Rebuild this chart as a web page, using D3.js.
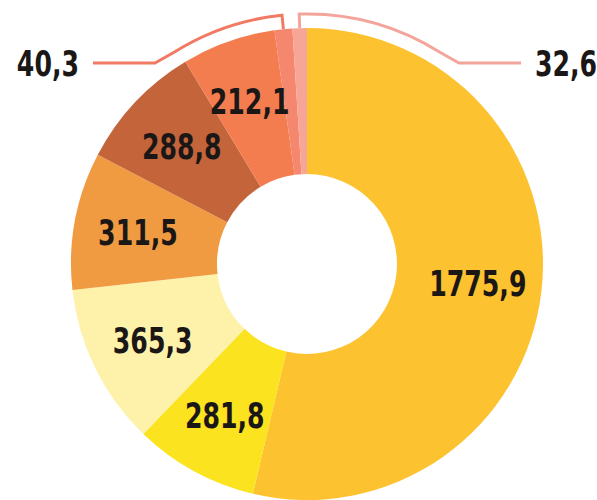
<!DOCTYPE html>
<html>
<head>
<meta charset="utf-8">
<script src="https://cdn.jsdelivr.net/npm/d3@7"></script>
<style>
html,body{margin:0;padding:0;background:#fff;}
svg{display:block;}
text{font-family:"DejaVu Sans Condensed","DejaVu Sans",sans-serif;font-weight:bold;fill:#1b1716;}
</style>
</head>
<body>
<svg id="chart" width="597" height="500"></svg>
<script>
// Data (clockwise from 12 o'clock)
const values = [1775.9, 281.8, 365.3, 311.5, 288.8, 212.1, 40.3, 32.6];
const labels = ["1775,9", "281,8", "365,3", "311,5", "288,8", "212,1", "40,3", "32,6"];
const colors = ["#FDC22F", "#FBE31F", "#FEF2AA", "#F09B41", "#C4643A", "#F47D50", "#F4876E", "#F6A596"];
// indices of slices labelled outside with callout brackets; side -1 = left, +1 = right
const calloutIdx = [6, 7];
const calloutSide = [-1, 1];
const calloutColors = ["#F07A64", "#F4A59B"];

const W = 597, H = 500;
const cx = 307, cy = 264;
const rOuter = 236, rInner = 90;
const rLabel = 172;
const rBracket = 250;
const fontSize = 35, squeeze = 0.8;

const svg = d3.select("#chart");
const g = svg.append("g").attr("transform", `translate(${cx},${cy})`);

const pie = d3.pie().sort(null).value(d => d);
const arcs = pie(values);
const arc = d3.arc().innerRadius(rInner).outerRadius(rOuter);

g.selectAll("path.slice")
  .data(arcs)
  .join("path")
  .attr("class", "slice")
  .attr("d", arc)
  .attr("fill", (d, i) => colors[i]);

// inside labels
const labelArc = d3.arc().innerRadius(rLabel).outerRadius(rLabel);
g.selectAll("text.in")
  .data(arcs.filter((d, i) => !calloutIdx.includes(i)))
  .join("text")
  .attr("class", "in")
  .attr("transform", d => `translate(${labelArc.centroid(d)}) scale(${squeeze},1)`)
  .attr("text-anchor", "middle")
  .attr("dy", "0.36em")
  .style("font-size", fontSize + "px")
  .text(d => labels[d.index]);

// callouts
const pt = (a, r) => [r * Math.sin(a), -r * Math.cos(a)];
const lineY = 63 - cy;
calloutIdx.forEach((idx, k) => {
  const d = arcs[idx];
  const side = calloutSide[k];
  let mid = (d.startAngle + d.endAngle) / 2;
  if (mid > Math.PI) mid -= 2 * Math.PI;
  const endA = side * 32 * Math.PI / 180; // arc end angle
  const pth = d3.path();
  const p0 = pt(mid, rOuter);
  pth.moveTo(p0[0], p0[1]);
  const p1 = pt(mid, rBracket);
  pth.lineTo(p1[0], p1[1]);
  const a0 = mid - Math.PI / 2, a1 = endA - Math.PI / 2;
  pth.arc(0, 0, rBracket, a0, a1, side < 0);
  pth.lineTo(side * 152, lineY);
  pth.lineTo(side * 214, lineY);
  g.append("path")
    .attr("d", pth.toString())
    .attr("fill", "none")
    .attr("stroke", calloutColors[k])
    .attr("stroke-width", 3);
  g.append("text")
    .attr("transform", `translate(${side * 228},${lineY}) scale(${squeeze},1)`)
    .attr("dy", "0.36em")
    .attr("text-anchor", side < 0 ? "end" : "start")
    .style("font-size", fontSize + "px")
    .text(labels[idx]);
});
</script>
</body>
</html>
